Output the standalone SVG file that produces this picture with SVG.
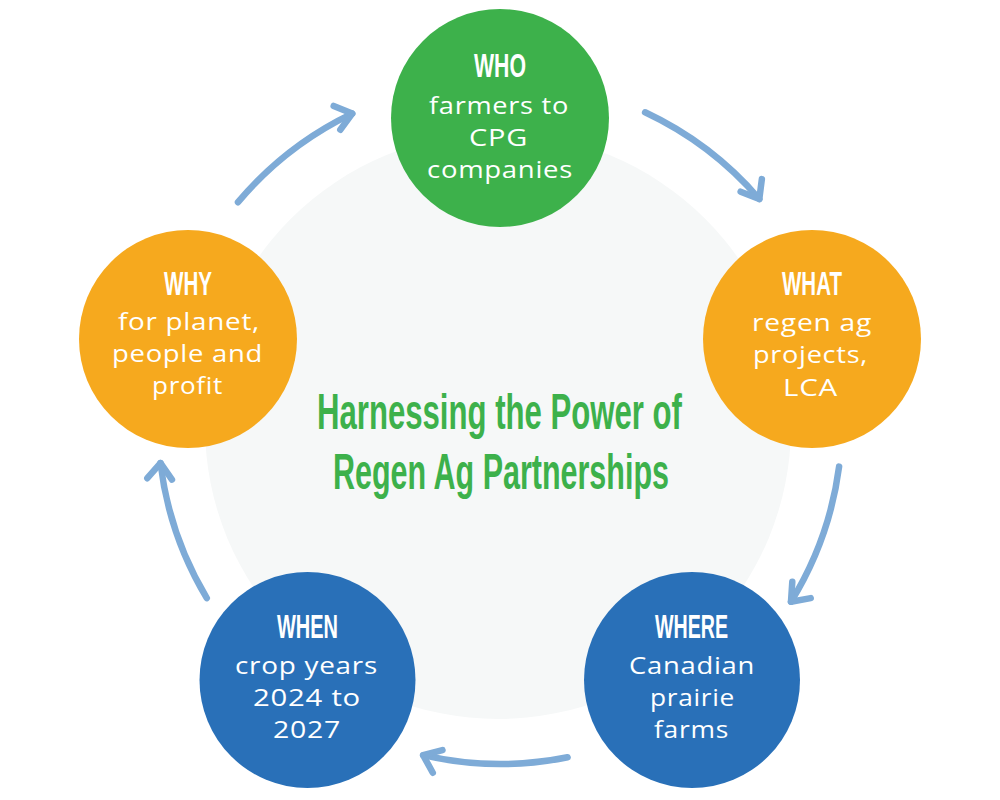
<svg xmlns="http://www.w3.org/2000/svg" width="1000" height="800" viewBox="0 0 1000 800">
  <defs>
    <style>
      .bg { fill: #f6f8f8; }
      .green { fill: #3db14b; }
      .orange { fill: #f6a91e; }
      .blue { fill: #2970b8; }
      .head { font-family: "Liberation Sans", Arial, sans-serif; font-weight: 700; font-size: 33px; fill: #ffffff; text-anchor: middle; }
      .body { font-family: "Open Sans", "DejaVu Sans", sans-serif; font-weight: 400; font-size: 23px; letter-spacing: 0.6px; fill: #ffffff; text-anchor: middle; }
      .title { font-family: "Liberation Sans", Arial, sans-serif; font-weight: 700; font-size: 50px; fill: #3db14b; text-anchor: middle; }
      .arrow { fill: none; stroke: #7eabd7; stroke-width: 6.5; stroke-linecap: round; stroke-linejoin: round; }
    </style>
    <marker id="chev" markerUnits="userSpaceOnUse" markerWidth="40" markerHeight="40" refX="0" refY="0" orient="auto" overflow="visible" viewBox="-20 -20 40 40">
      <path d="M -17.7 9.4 L 0 0 L -13.4 -14.9" fill="none" stroke="#7eabd7" stroke-width="6.5" stroke-linecap="round" stroke-linejoin="round"/>
    </marker>
  </defs>

  <rect width="1000" height="800" fill="#ffffff"/>
  <circle id="backdrop" class="bg" cx="498" cy="426" r="293"/>

  <g id="connectors">
    <path class="arrow" marker-end="url(#chev)" d="M 238 202.2 A 342 342 0 0 1 352.2 113.6"/>
    <path class="arrow" marker-end="url(#chev)" d="M 645.1 112.3 A 342 342 0 0 1 759.3 199"/>
    <path class="arrow" marker-end="url(#chev)" d="M 839.1 466.6 A 342 342 0 0 1 791 601.7"/>
    <path class="arrow" marker-end="url(#chev)" d="M 567.6 757.3 A 342 342 0 0 1 423.1 755.2"/>
    <path class="arrow" marker-end="url(#chev)" d="M 206.8 598.1 A 342 342 0 0 1 160.5 463.1"/>
  </g>

  <g id="title">
    <text class="title" transform="translate(499.5 428.5) scale(0.62 1)" x="0" y="0" textLength="588.7" lengthAdjust="spacingAndGlyphs">Harnessing the Power of</text>
    <text class="title" transform="translate(501 488.5) scale(0.62 1)" x="0" y="0" textLength="541.9" lengthAdjust="spacingAndGlyphs">Regen Ag Partnerships</text>
  </g>

  <g id="who">
    <circle class="green" cx="500" cy="118" r="109"/>
    <text class="head" x="500" y="77" textLength="52" lengthAdjust="spacingAndGlyphs">WHO</text>
    <text class="body" x="499" y="114" textLength="140" lengthAdjust="spacingAndGlyphs">farmers to</text>
    <text class="body" x="498.5" y="146" textLength="59" lengthAdjust="spacingAndGlyphs">CPG</text>
    <text class="body" x="500" y="178" textLength="146" lengthAdjust="spacingAndGlyphs">companies</text>
  </g>

  <g id="what">
    <circle class="orange" cx="812" cy="339" r="109"/>
    <text class="head" x="812" y="295" textLength="60" lengthAdjust="spacingAndGlyphs">WHAT</text>
    <text class="body" x="812" y="331" textLength="120" lengthAdjust="spacingAndGlyphs">regen ag</text>
    <text class="body" x="810.5" y="363" textLength="115" lengthAdjust="spacingAndGlyphs">projects,</text>
    <text class="body" x="810.5" y="396" textLength="55" lengthAdjust="spacingAndGlyphs">LCA</text>
  </g>

  <g id="where">
    <circle class="blue" cx="692" cy="680" r="108"/>
    <text class="head" x="691.5" y="638" textLength="73" lengthAdjust="spacingAndGlyphs">WHERE</text>
    <text class="body" x="692" y="674" textLength="126" lengthAdjust="spacingAndGlyphs">Canadian</text>
    <text class="body" x="692.5" y="706" textLength="85" lengthAdjust="spacingAndGlyphs">prairie</text>
    <text class="body" x="691.5" y="738" textLength="75" lengthAdjust="spacingAndGlyphs">farms</text>
  </g>

  <g id="when">
    <circle class="blue" cx="307.5" cy="680" r="108"/>
    <text class="head" x="307.5" y="638" textLength="61" lengthAdjust="spacingAndGlyphs">WHEN</text>
    <text class="body" x="306.5" y="674" textLength="143" lengthAdjust="spacingAndGlyphs">crop years</text>
    <text class="body" x="307" y="706" textLength="108" lengthAdjust="spacingAndGlyphs">2024 to</text>
    <text class="body" x="307" y="738" textLength="68" lengthAdjust="spacingAndGlyphs">2027</text>
  </g>

  <g id="why">
    <circle class="orange" cx="188" cy="339" r="109"/>
    <text class="head" x="188" y="295" textLength="48" lengthAdjust="spacingAndGlyphs">WHY</text>
    <text class="body" x="189" y="330" textLength="142" lengthAdjust="spacingAndGlyphs">for planet,</text>
    <text class="body" x="187.5" y="362" textLength="151" lengthAdjust="spacingAndGlyphs">people and</text>
    <text class="body" x="187.5" y="394" textLength="71" lengthAdjust="spacingAndGlyphs">profit</text>
  </g>
</svg>
